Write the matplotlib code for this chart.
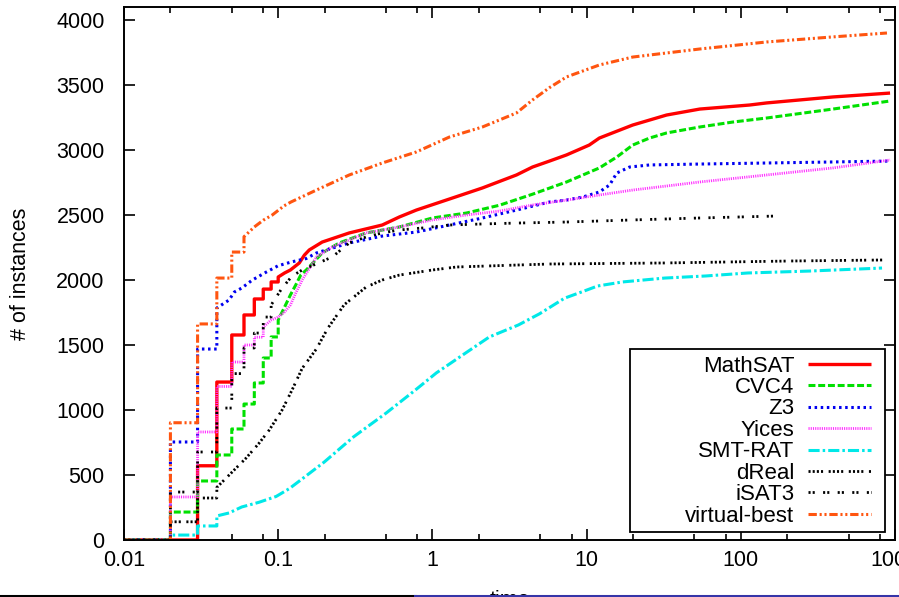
import matplotlib
matplotlib.use("Agg")
import matplotlib.pyplot as plt
from matplotlib.lines import Line2D
from matplotlib.patches import Rectangle

plt.rcParams["font.family"] = ["Liberation Sans", "DejaVu Sans"]
plt.rcParams["lines.scale_dashes"] = False

# cumulative number of solved instances vs. time
mathsat_t = [0.01, 0.03, 0.03, 0.04, 0.04, 0.05, 0.05, 0.06, 0.06, 0.07, 0.07, 0.08, 0.08,
             0.09, 0.09, 0.1, 0.1, 0.11, 0.12, 0.137, 0.148, 0.159, 0.193, 0.289, 0.473,
             0.611, 0.787, 1.29, 2.11, 3.51, 4.46, 5.75, 7.41, 10.4, 12.1, 19.9, 33.0,
             54.2, 114, 147, 396, 929]
mathsat_n = [0, 0, 571, 571, 1215, 1215, 1577, 1577, 1731, 1731, 1854, 1854, 1930,
             1930, 1985, 1985, 2023, 2054, 2077, 2131, 2192, 2231, 2292, 2362, 2423,
             2485, 2538, 2623, 2708, 2808, 2869, 2915, 2962, 3038, 3092, 3192, 3269,
             3315, 3346, 3362, 3408, 3438]

cvc4_t = [0.01, 0.02, 0.02, 0.03, 0.03, 0.04, 0.04, 0.05, 0.05, 0.06, 0.06, 0.07, 0.07,
          0.08, 0.08, 0.09, 0.09, 0.1, 0.1, 0.11, 0.12, 0.13, 0.14, 0.152, 0.193,
          0.249, 0.372, 0.611, 1.0, 1.66, 2.72, 4.46, 7.41, 12.1, 15.7, 19.9, 25.6,
          33.0, 54.2, 88.7, 147, 396, 929]
cvc4_n = [0, 0, 215, 215, 454, 454, 654, 654, 854, 854, 1046, 1046, 1208,
          1208, 1400, 1400, 1562, 1562, 1692, 1792, 1885, 1962, 2038, 2077, 2208,
          2285, 2362, 2408, 2477, 2515, 2575, 2660, 2754, 2862, 2946, 3038, 3092,
          3131, 3177, 3215, 3246, 3315, 3377]

z3_t = [0.01, 0.02, 0.02, 0.03, 0.03, 0.04, 0.04, 0.048, 0.052, 0.058, 0.068, 0.084,
        0.1, 0.123, 0.152, 0.177, 0.289, 0.473, 0.787, 1.29, 2.11, 3.51, 5.75, 7.41,
        9.42, 12.1, 14.1, 15.7, 19.0, 25.6, 54.2, 147, 396, 929]
z3_n = [0, 0, 754, 754, 1469, 1469, 1785, 1846, 1908, 1938, 2000, 2062,
        2110, 2140, 2165, 2208, 2285, 2338, 2369, 2423, 2477, 2538, 2600, 2615,
        2638, 2677, 2731, 2823, 2869, 2885, 2892, 2900, 2908, 2915]

yices_t = [0.01, 0.02, 0.02, 0.03, 0.03, 0.04, 0.04, 0.05, 0.05, 0.06, 0.06, 0.07, 0.07,
           0.08, 0.08, 0.09, 0.1, 0.11, 0.12, 0.13, 0.14, 0.143, 0.177, 0.224, 0.372,
           0.611, 1.0, 1.66, 2.72, 4.46, 7.41, 12.1, 19.9, 33.0, 54.2, 147, 396, 929]
yices_n = [0, 0, 331, 331, 831, 831, 1181, 1181, 1369, 1369, 1500, 1500, 1560,
           1560, 1638, 1692, 1715, 1754, 1808, 1900, 1977, 2000, 2177, 2254, 2362,
           2408, 2462, 2500, 2530, 2577, 2615, 2654, 2692, 2723, 2754, 2808, 2862, 2923]

smtrat_t = [0.01, 0.02, 0.02, 0.03, 0.03, 0.04, 0.04, 0.048, 0.058, 0.075, 0.097, 0.118,
            0.143, 0.199, 0.307, 0.502, 0.776, 1.06, 1.64, 2.34, 3.61, 4.95, 7.19, 9.28,
            11.8, 17.1, 32.1, 59.3, 111, 281, 824]
smtrat_n = [0, 0, 38, 38, 108, 108, 185, 208, 254, 290, 335, 395,
            470, 600, 792, 977, 1154, 1285, 1438, 1562, 1654, 1740, 1860, 1908,
            1954, 1985, 2015, 2031, 2054, 2069, 2092]

dreal_t = [0.01, 0.02, 0.02, 0.03, 0.03, 0.04, 0.04, 0.05, 0.062, 0.0753, 0.0875, 0.106,
           0.123, 0.143, 0.177, 0.21, 0.268, 0.372, 0.473, 0.611, 1.0, 1.43, 3.51, 5.75,
           32.1, 205, 849]
dreal_n = [0, 0, 140, 140, 323, 323, 405, 520, 631, 746, 846, 1000,
           1154, 1320, 1470, 1630, 1810, 1946, 2000, 2038, 2077, 2100, 2115, 2123,
           2131, 2146, 2154]

isat3_t = [0.01, 0.02, 0.02, 0.03, 0.03, 0.04, 0.04, 0.05, 0.05, 0.06, 0.06, 0.07, 0.07,
           0.08, 0.08, 0.09, 0.09, 0.106, 0.123, 0.143, 0.224, 0.289, 0.372, 0.473,
           0.611, 0.861, 1.29, 2.11, 3.51, 7.41, 19.9, 54.2, 169]
isat3_n = [0, 0, 369, 369, 677, 677, 1015, 1015, 1280, 1280, 1477, 1477, 1592,
           1592, 1715, 1715, 1808, 1938, 2030, 2077, 2177, 2285, 2331, 2362,
           2385, 2400, 2423, 2431, 2438, 2446, 2462, 2477, 2492]

vbest_t = [0.01, 0.02, 0.02, 0.03, 0.03, 0.04, 0.04, 0.05, 0.05, 0.06, 0.06, 0.07, 0.08,
           0.0915, 0.109, 0.121, 0.177, 0.289, 0.473, 0.787, 1.29, 2.11, 3.51, 4.46,
           5.75, 7.41, 12.1, 19.9, 54.2, 147, 396, 887]
vbest_n = [0, 0, 902, 902, 1662, 1662, 2015, 2015, 2215, 2215, 2333, 2408, 2460,
           2500, 2570, 2600, 2692, 2808, 2900, 2985, 3100, 3177, 3285, 3385,
           3480, 3562, 3654, 3715, 3777, 3831, 3870, 3900]

labels = ["MathSAT", "CVC4", "Z3", "Yices", "SMT-RAT", "dReal", "iSAT3", "virtual-best"]
xticks = [0.01, 0.1, 1, 10, 100, 1000]
xtick_labels = ["0.01", "0.1", "1", "10", "100", "1000"]
yticks = [0, 500, 1000, 1500, 2000, 2500, 3000, 3500, 4000]

series = [(mathsat_t, mathsat_n), (cvc4_t, cvc4_n), (z3_t, z3_n), (yices_t, yices_n),
          (smtrat_t, smtrat_n), (dreal_t, dreal_n), (isat3_t, isat3_n), (vbest_t, vbest_n)]

# gnuplot-like styles: colour, width, dash pattern
styles = [
    ("#ff0000", 2.4, (0, ())),
    ("#00e000", 2.2, (0, (5, 2))),
    ("#0000f0", 2.2, (0, (1.8, 2.6))),
    ("#ff30ff", 2.0, (0, (0.8, 0.8))),
    ("#00e8e8", 2.2, (0, (8, 2.2, 1.8, 2.2))),
    ("#000000", 2.0, (0, (1.5, 1.5, 1.5, 1.5, 1.5, 1.5, 1.5, 4))),
    ("#000000", 2.0, (0, (1.5, 1.5, 1.5, 6))),
    ("#ff5510", 2.2, (0, (6, 2, 1.5, 2, 1.5, 2))),
]

fs = 15.5

fig = plt.figure(figsize=(8.99, 5.97), dpi=100)
ax = fig.add_axes([124 / 899, 1 - 540 / 597, (895 - 124) / 899, (540 - 7) / 597])

for (t, n), lab, (col, lw, ls) in zip(series, labels, styles):
    ax.plot(t, n, color=col, lw=lw, linestyle=ls, label=lab, solid_joinstyle="miter")

ax.set_xscale("log")
ax.set_xlim(0.01, 1000)
ax.set_ylim(0, 4100)
ax.set_xticks(xticks)
ax.set_xticklabels(xtick_labels)
ax.set_xticks([m * 10.0 ** e for e in range(-2, 3) for m in (2, 5, 8)], minor=True)
ax.set_yticks(yticks)
ax.tick_params(which="both", direction="in", top=True, right=True, labelsize=fs,
               width=1.2, colors="black")
ax.tick_params(which="major", length=8)
ax.tick_params(which="minor", length=4)
ax.tick_params(axis="x", pad=7)
ax.tick_params(axis="y", pad=14)
for sp in ax.spines.values():
    sp.set_linewidth(1.4)

ax.set_ylabel("# of instances", fontsize=fs, labelpad=18)
ax.set_xlabel("time", fontsize=fs, labelpad=14)

# gnuplot-style key: wide box with right-justified labels
key_box = Rectangle((0.656, 0.015), 0.331, 0.343, transform=ax.transAxes,
                    facecolor="white", edgecolor="black", lw=1.3, zorder=4)
ax.add_patch(key_box)
leg = ax.legend(loc="lower right", bbox_to_anchor=(0.969, 0.025), borderaxespad=0,
                markerfirst=False, frameon=False, fontsize=16, handlelength=2.85,
                handletextpad=0.6, labelspacing=0.02, borderpad=0)
leg.set_zorder(5)

# strip along the bottom edge of the screenshot
fig.add_artist(Line2D([0, 415 / 899], [1.5 / 597, 1.5 / 597], color="black", lw=2.2))
fig.add_artist(Line2D([415 / 899, 1], [1.5 / 597, 1.5 / 597], color="#3535a8", lw=2.2))

fig.savefig("out.png", dpi=100)
